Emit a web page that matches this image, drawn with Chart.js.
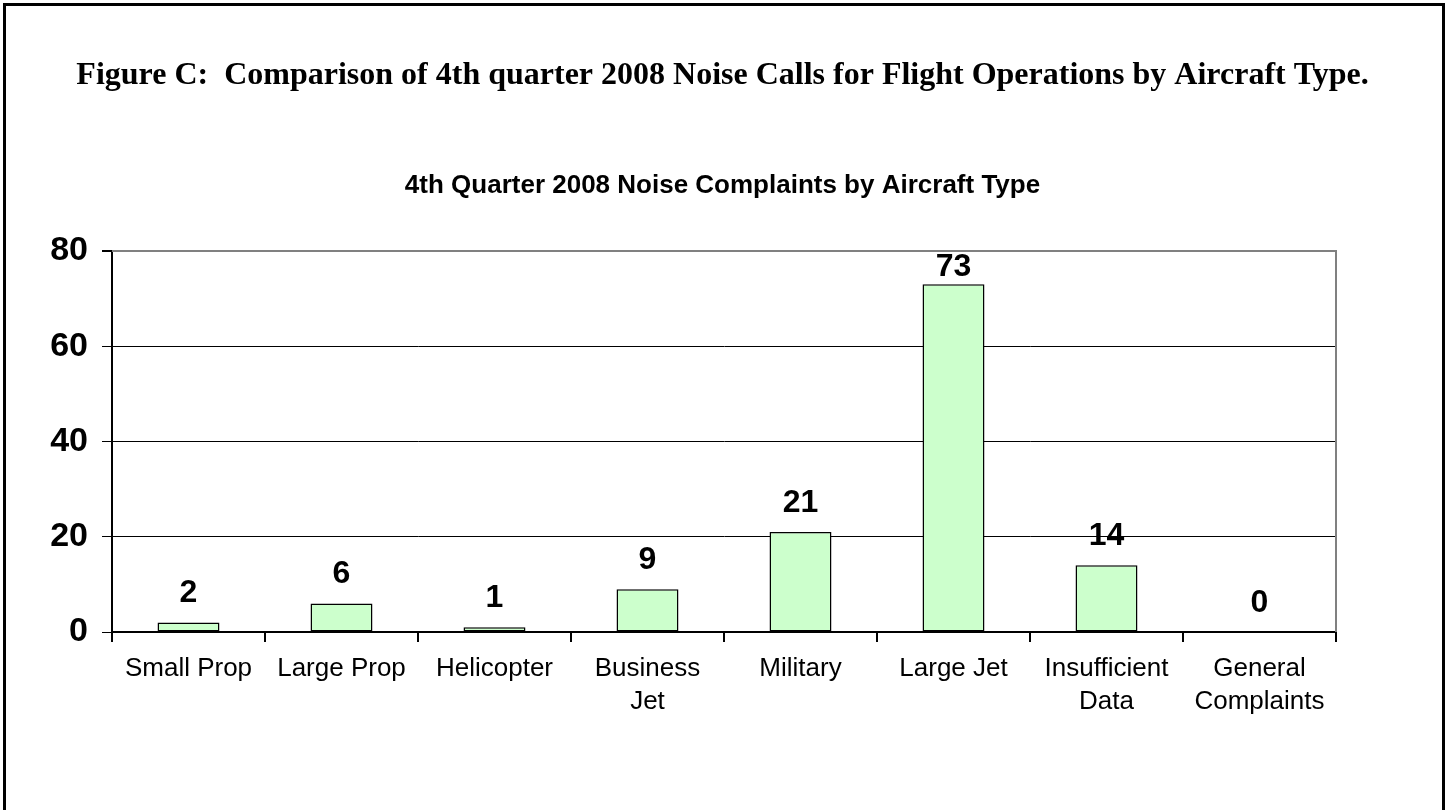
<!DOCTYPE html>
<html>
<head>
<meta charset="utf-8">
<script src="https://cdn.jsdelivr.net/npm/chart.js@4.4.0/dist/chart.umd.min.js"></script>
<style>
html,body{margin:0;padding:0;background:#fff;width:1445px;height:810px;overflow:hidden;}
#frame{position:absolute;left:3px;top:3px;width:1442px;height:807px;box-sizing:border-box;border:3px solid #000;border-bottom:none;}
#c{position:absolute;left:0;top:0;}
</style>
</head>
<body>
<div id="frame"></div>
<canvas id="c" width="1445" height="810"></canvas>
<script>
const figureTitle = "Figure C:  Comparison of 4th quarter 2008 Noise Calls for Flight Operations by Aircraft Type.";
const chartTitle = "4th Quarter 2008 Noise Complaints by Aircraft Type";
const categories = [["Small Prop"], ["Large Prop"], ["Helicopter"], ["Business", "Jet"], ["Military"], ["Large Jet"], ["Insufficient", "Data"], ["General", "Complaints"]];
const complaints = [2, 6, 1, 9, 21, 73, 14, 0];
const yTicks = [0, 20, 40, 60, 80];

const valueLabels = {
  id: 'valueLabels',
  afterDatasetsDraw(chart) {
    const ctx = chart.ctx;
    const meta = chart.getDatasetMeta(0);
    ctx.save();
    ctx.font = 'bold 32px "Liberation Sans", Arial, sans-serif';
    ctx.fillStyle = '#000';
    ctx.textAlign = 'center';
    ctx.textBaseline = 'alphabetic';
    meta.data.forEach((bar, i) => {
      const y = Math.max(bar.y - 20, chart.chartArea.top + 25);
      ctx.fillText(String(complaints[i]), bar.x, y);
    });
    ctx.restore();
  }
};

const plotFrame = {
  id: 'plotFrame',
  beforeDatasetsDraw(chart) {
    const a = chart.chartArea;
    const ctx = chart.ctx;
    ctx.save();
    ctx.strokeStyle = '#808080';
    ctx.lineWidth = 2;
    ctx.beginPath();
    ctx.moveTo(a.left, a.top);
    ctx.lineTo(a.right, a.top);
    ctx.lineTo(a.right, a.bottom);
    ctx.stroke();
    ctx.restore();
  }
};

new Chart(document.getElementById('c'), {
  type: 'bar',
  data: {
    labels: categories,
    datasets: [{
      data: complaints,
      backgroundColor: '#CCFFCC',
      borderColor: '#000',
      borderWidth: 1.5,
      borderSkipped: false,
      categoryPercentage: 1,
      barPercentage: 0.405
    }]
  },
  options: {
    responsive: false,
    animation: false,
    devicePixelRatio: 1,
    layout: { padding: { left: 0, right: 0, top: 0, bottom: 0 } },
    plugins: {
      legend: { display: false },
      tooltip: { enabled: false },
      title: {
        display: true,
        text: figureTitle,
        color: '#000',
        font: { family: '"Liberation Serif", "Times New Roman", serif', size: 32, weight: 'bold', lineHeight: 1.2 },
        padding: { top: 57, bottom: 0 }
      },
      subtitle: {
        display: true,
        text: chartTitle,
        color: '#000',
        font: { family: '"Liberation Sans", Arial, sans-serif', size: 26, weight: 'bold', lineHeight: 1.2 },
        padding: { top: 75, bottom: 49.4 }
      }
    },
    scales: {
      x: {
        offset: true,
        grid: { offset: true, drawOnChartArea: false, drawTicks: true, tickLength: 10, color: '#000', tickColor: '#000', lineWidth: 2 },
        border: { display: true, color: '#000', width: 2 },
        ticks: {
          color: '#000',
          padding: 10.5,
          maxRotation: 0,
          autoSkip: false,
          font: { family: '"Liberation Sans", Arial, sans-serif', size: 26, lineHeight: 1.27 }
        },
        afterFit(s) { s.height = 178; }
      },
      y: {
        min: yTicks[0],
        max: yTicks[yTicks.length - 1],
        afterBuildTicks(s) { s.ticks = yTicks.map(v => ({ value: v })); },
        grid: {
          color: ctx => (ctx.tick && ctx.tick.value === 80) ? '#808080' : '#000',
          lineWidth: ctx => (ctx.tick && ctx.tick.value === 80) ? 2 : 1,
          tickColor: '#000',
          tickLength: 10,
          drawTicks: true
        },
        border: { display: true, color: '#000', width: 2 },
        ticks: {
          color: '#000',
          padding: 14,
          font: { family: '"Liberation Sans", Arial, sans-serif', size: 34, weight: 'bold' }
        },
        afterFit(s) { s.width = 112; }
      },
      yRightSpace: {
        position: 'right',
        display: true,
        min: 0,
        max: 80,
        grid: { display: false, drawOnChartArea: false },
        border: { display: false },
        ticks: { display: false },
        afterFit(s) { s.width = 109; }
      }
    }
  },
  plugins: [plotFrame, valueLabels]
});
</script>
</body>
</html>
